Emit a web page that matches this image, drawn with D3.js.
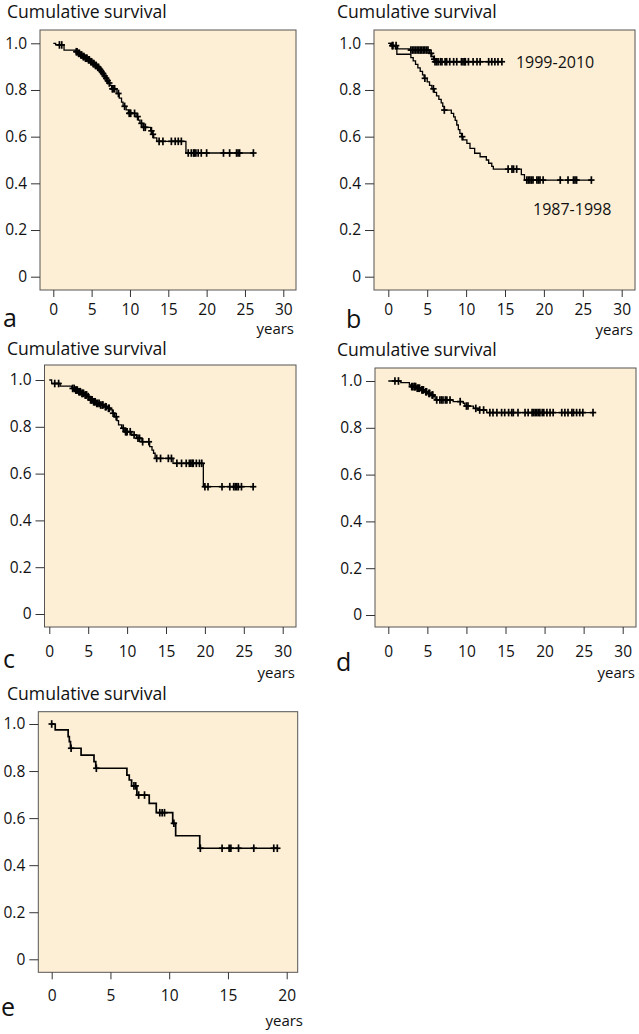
<!DOCTYPE html>
<html>
<head>
<meta charset="utf-8">
<script src="https://cdn.jsdelivr.net/npm/d3@7"></script>
<style>
  html, body { margin: 0; padding: 0; background: #ffffff; }
  svg { display: block; }
  text { font-family: "Open Sans", "Noto Sans", sans-serif; fill: #111; }
</style>
</head>
<body>
<svg id="chart" width="639" height="1034"></svg>
<script>
// ---------- data ----------
const yTickValues = [0, 0.2, 0.4, 0.6, 0.8, 1.0];
const yTickLabels = ["0", "0.2", "0.4", "0.6", "0.8", "1.0"];
const xTicks30 = [0, 5, 10, 15, 20, 25, 30];
const xTicks20 = [0, 5, 10, 15, 20];
const yTitle = "Cumulative survival";
const xUnit = "years";
const panelLetters = ["a", "b", "c", "d", "e"];
const seriesNamesB = ["1999-2010", "1987-1998"];

// panel a : [time, survival after event]
const aSteps = [[0,1],[0.3,0.993],[1.4,0.971],[2.9,0.964],[3.2,0.957],[3.5,0.950],[3.8,0.943],[4.1,0.936],[4.5,0.929],[4.8,0.921],[5.1,0.913],[5.4,0.905],[5.7,0.897],[6.0,0.888],[6.2,0.879],[6.4,0.870],[6.6,0.860],[6.8,0.850],[7.0,0.840],[7.2,0.830],[7.4,0.820],[7.6,0.805],[8.3,0.785],[8.6,0.765],[8.9,0.748],[9.1,0.730],[9.5,0.715],[9.8,0.700],[10.8,0.686],[11.1,0.671],[11.3,0.657],[11.7,0.640],[12.7,0.625],[12.9,0.610],[13.1,0.595],[13.5,0.580],[17.3,0.530]];
const aCensor = [0.8,1.1,3.0,3.1,3.3,3.4,3.6,3.7,3.9,4.0,4.2,4.3,4.4,4.6,4.7,4.9,5.0,5.2,5.3,5.5,5.6,5.8,5.9,6.1,6.3,6.5,6.7,6.9,7.1,7.3,7.7,7.8,8.0,8.5,9.3,9.9,10.0,10.1,10.6,11.0,11.5,11.8,12.0,12.8,13.0,13.8,14.3,15.4,15.9,16.3,16.7,17.6,18.0,18.3,18.4,18.6,18.9,19.3,20.0,22.2,23.0,23.9,24.1,24.3,26.1];

// panel b : 1999-2010
const bNewSteps = [[0,1],[0.4,0.990],[1.2,0.976],[2.7,0.971],[5.3,0.957],[5.6,0.943],[5.8,0.932],[6.0,0.921]];
const bNewCensor = [0.6,1.0,2.9,3.1,3.3,3.5,3.7,3.9,4.1,4.3,4.5,4.7,4.9,5.1,5.5,5.9,6.0,6.2,6.4,6.7,6.9,7.3,7.5,7.9,8.4,8.8,9.4,9.6,9.8,9.9,10.3,10.9,11.4,11.8,12.9,13.3,13.7,14.1,14.6];
// panel b : 1987-1998
const bOldSteps = [[0,1],[0.3,0.990],[0.9,0.976],[1.1,0.953],[2.9,0.939],[3.2,0.925],[3.5,0.910],[3.8,0.895],[4.1,0.880],[4.4,0.865],[4.6,0.850],[5.0,0.835],[5.3,0.820],[5.6,0.805],[5.9,0.790],[6.2,0.775],[6.5,0.760],[6.8,0.745],[7.0,0.730],[7.2,0.714],[8.1,0.700],[8.4,0.685],[8.6,0.670],[8.8,0.650],[9.0,0.630],[9.2,0.614],[9.4,0.600],[9.6,0.586],[10.1,0.571],[10.5,0.550],[11.1,0.529],[11.8,0.514],[12.6,0.500],[12.9,0.486],[13.3,0.473],[13.5,0.461],[17.1,0.437],[17.5,0.414]];
const bOldCensor = [0.5,4.7,5.8,7.2,9.5,15.4,15.9,16.1,16.5,17.8,18.0,18.2,18.4,18.6,19.1,19.3,19.5,19.9,22.1,23.1,23.8,24.0,24.2,26.1];

// panel c
const cSteps = [[0,1],[0.3,0.985],[1.4,0.974],[2.9,0.964],[3.3,0.957],[3.7,0.950],[4.1,0.943],[4.5,0.936],[4.9,0.929],[5.2,0.915],[5.6,0.907],[6.0,0.900],[6.5,0.893],[7.0,0.886],[7.5,0.879],[7.9,0.872],[8.1,0.858],[8.4,0.843],[8.7,0.826],[8.9,0.808],[9.3,0.794],[9.7,0.779],[10.6,0.765],[11.2,0.751],[11.9,0.736],[12.9,0.715],[13.2,0.700],[13.4,0.687],[13.6,0.665],[15.9,0.644],[19.8,0.544]];
const cCensor = [0.7,1.2,3.0,3.2,3.4,3.5,3.6,3.8,3.9,4.0,4.2,4.3,4.4,4.6,4.7,4.8,5.0,5.3,5.4,5.5,5.7,5.8,5.9,6.1,6.2,6.4,6.6,6.8,6.9,7.2,7.3,7.6,7.7,8.2,8.6,9.5,9.8,9.9,10.0,10.4,10.9,11.4,11.6,12.0,12.8,13.8,14.3,15.3,15.7,16.4,17.0,17.6,18.0,18.2,18.4,18.5,18.9,19.3,19.6,20.0,20.4,22.2,23.2,23.7,23.9,24.1,24.3,24.7,26.2];

// panel d
const dSteps = [[0,1],[1.6,0.993],[2.7,0.983],[2.9,0.976],[3.6,0.969],[4.2,0.962],[4.7,0.954],[5.1,0.947],[5.5,0.940],[5.8,0.933],[6.0,0.919],[8.3,0.912],[9.6,0.905],[9.8,0.893],[10.9,0.883],[11.5,0.876],[12.6,0.865]];
const dCensor = [0.85,1.3,3.0,3.1,3.3,3.4,3.5,3.7,3.8,3.9,4.0,4.3,4.4,4.5,4.8,4.9,5.2,5.3,5.6,5.7,6.2,6.6,6.8,7.0,7.3,7.5,7.9,9.2,10.0,10.2,11.2,11.7,12.2,13.0,13.4,13.9,14.5,14.9,15.4,15.8,16.0,16.6,17.5,17.9,18.4,18.6,18.8,19.0,19.2,19.4,19.7,19.9,20.3,20.7,21.1,22.2,22.6,23.0,23.5,23.7,24.1,24.5,24.9,26.2];

// panel e
const eSteps = [[0,1],[0.3,0.975],[1.4,0.946],[1.5,0.925],[1.6,0.897],[2.5,0.868],[3.6,0.840],[3.75,0.812],[6.4,0.783],[6.6,0.762],[6.8,0.737],[7.25,0.698],[8.3,0.663],[8.9,0.623],[10.3,0.578],[10.55,0.525],[12.6,0.472]];
const eCensor = [0.0,1.65,3.8,7.0,7.15,7.4,7.9,9.2,9.4,9.6,10.4,12.65,14.5,15.1,15.25,15.9,17.2,18.9,19.2];

// ---------- layout (positions only) ----------
const layout = [
  { letter: 0, box: [40, 30, 296, 290], xr: [53.3, 283.3], yr: [276.7, 43.3], xmax: 30, ticks: xTicks30,
    title: [7, 18], letterPos: [3, 327], unitPos: [294, 334], tickLabY: 315, series: [[aSteps, aCensor]], lw: 1.3 },
  { letter: 1, box: [374, 30, 635, 290], xr: [388.3, 621.7], yr: [276.7, 43.3], xmax: 30, ticks: xTicks30,
    title: [337, 18], letterPos: [346, 328], unitPos: [633, 335], tickLabY: 315,
    series: [[bNewSteps, bNewCensor], [bOldSteps, bOldCensor]], lw: 1.3 },
  { letter: 2, box: [44.5, 365, 296, 627], xr: [49.3, 282.7], yr: [614, 380], xmax: 30, ticks: xTicks30,
    title: [7, 355], letterPos: [3, 668], unitPos: [295, 678], tickLabY: 657, series: [[cSteps, cCensor]], lw: 1.3 },
  { letter: 3, box: [375, 368, 636, 627], xr: [388.3, 622.7], yr: [615, 381], xmax: 30, ticks: xTicks30,
    title: [337, 356], letterPos: [336, 671], unitPos: [635, 678], tickLabY: 657, series: [[dSteps, dCensor]], lw: 1.3 },
  { letter: 4, box: [38.3, 711.7, 297.7, 972.3], xr: [51.7, 286.7], yr: [959.3, 724], xmax: 20, ticks: xTicks20,
    title: [7, 700], letterPos: [1, 1016], unitPos: [303, 1026], tickLabY: 1001, series: [[eSteps, eCensor]], lw: 1.7 }
];

const svg = d3.select("#chart");
const boxFill = "#fdefd5";
const boxStroke = "#555555";

function survAt(steps, t) {
  let s = steps[0][1];
  for (const p of steps) { if (p[0] <= t) s = p[1]; }
  return s;
}

layout.forEach(L => {
  const g = svg.append("g");
  const x = d3.scaleLinear().domain([0, L.xmax]).range(L.xr);
  const y = d3.scaleLinear().domain([0, 1]).range(L.yr);
  const [bx0, by0, bx1, by1] = L.box;

  g.append("rect").attr("x", bx0).attr("y", by0).attr("width", bx1 - bx0).attr("height", by1 - by0)
    .attr("fill", boxFill).attr("stroke", boxStroke).attr("stroke-width", 1);

  // y axis
  const ya = g.append("g").attr("transform", `translate(${bx0},0)`)
    .call(d3.axisLeft(y).tickValues(yTickValues).tickSize(9).tickPadding(4)
      .tickFormat((d, i) => yTickLabels[i]));
  ya.select(".domain").remove();
  ya.selectAll(".tick line").attr("stroke", "#333");
  ya.selectAll("text").attr("font-size", 15.5).attr("fill", "#111")
    .style("font-family", '"Open Sans", sans-serif');

  // x axis
  const xa = g.append("g").attr("transform", `translate(0,${by1})`)
    .call(d3.axisBottom(x).tickValues(L.ticks).tickSize(7).tickPadding(0));
  xa.select(".domain").remove();
  xa.selectAll(".tick line").attr("stroke", "#333");
  xa.selectAll("text").attr("font-size", 15.5).attr("fill", "#111")
    .attr("dy", null).attr("y", L.tickLabY - by1)
    .style("font-family", '"Open Sans", sans-serif');

  // title, letter, unit
  g.append("text").attr("x", L.title[0]).attr("y", L.title[1]).attr("font-size", 17.6).text(yTitle);
  g.append("text").attr("x", L.letterPos[0]).attr("y", L.letterPos[1]).attr("font-size", 25).text(panelLetters[L.letter]);
  g.append("text").attr("x", L.unitPos[0]).attr("y", L.unitPos[1]).attr("font-size", 15)
    .attr("text-anchor", "end").text(xUnit);

  // curves
  const line = d3.line().x(d => x(d[0])).y(d => y(d[1])).curve(d3.curveStepAfter);
  L.series.forEach(([steps, censor]) => {
    const tEnd = d3.max(censor);
    const pts = steps.concat([[tEnd, steps[steps.length - 1][1]]]);
    g.append("path").attr("d", line(pts)).attr("fill", "none")
      .attr("stroke", "#000").attr("stroke-width", L.lw);
    const cg = g.append("g").attr("stroke", "#000").attr("stroke-width", 1.7);
    censor.forEach(t => {
      const cx = x(t), cy = y(survAt(steps, t));
      cg.append("line").attr("x1", cx - 3.2).attr("x2", cx + 3.2).attr("y1", cy).attr("y2", cy);
      cg.append("line").attr("x1", cx).attr("x2", cx).attr("y1", cy - 3.8).attr("y2", cy + 3.8);
    });
  });

  if (L.letter === 1) {
    g.append("text").attr("x", x(16.4)).attr("y", y(0.895)).attr("font-size", 16).text(seriesNamesB[0]);
    g.append("text").attr("x", x(18.6)).attr("y", y(0.265)).attr("font-size", 16).text(seriesNamesB[1]);
  }
});
</script>
</body>
</html>
